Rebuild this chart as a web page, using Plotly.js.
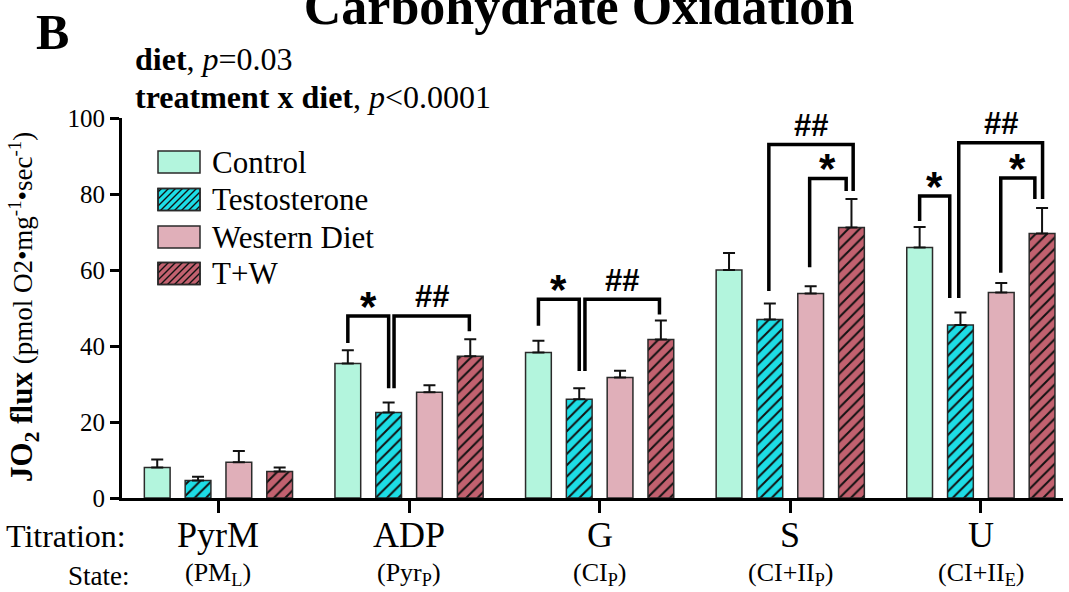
<!DOCTYPE html>
<html>
<head>
<meta charset="utf-8">
<script src="https://cdn.plot.ly/plotly-3.0.1.min.js"></script>
<style>html,body{margin:0;padding:0;background:#fff;}#chart{width:1069px;height:592px;}</style>
</head>
<body>
<div id="chart"></div>
<script>
// ---------------- data ----------------
const categories = ['PyrM', 'ADP', 'G', 'S', 'U'];
const stateLabels = ['(PM<sub>L</sub>)', '(Pyr<sub>P</sub>)', '(CI<sub>P</sub>)', '(CI+II<sub>P</sub>)', '(CI+II<sub>E</sub>)'];
const seriesNames = ['Control', 'Testosterone', 'Western Diet', 'T+W'];

const control        = [8.0, 35.4, 38.3, 60.0, 65.9];
const controlErr     = [2.1, 3.5, 3.1, 4.5, 5.4];
const testosterone   = [4.6, 22.5, 26.0, 47.0, 45.5];
const testosteroneErr= [1.0, 2.6, 2.9, 4.2, 3.3];
const western        = [9.4, 27.8, 31.7, 53.8, 54.1];
const westernErr     = [3.0, 1.9, 1.8, 1.9, 2.5];
const tw             = [7.0, 37.3, 41.7, 71.2, 69.6];
const twErr          = [1.0, 4.5, 5.0, 7.5, 6.7];

const yTickVals = [0, 20, 40, 60, 80, 100];

// ---------------- layout geometry ----------------
const W = 1069, H = 592;
const M = {l: 122, r: 6, t: 118, b: 94};
const PW = W - M.l - M.r, PH = H - M.t - M.b;
const xRange = [-0.506, 4.431];
const catPx = PW / (xRange[1] - xRange[0]);
const slot = 0.2141;
const pxX = px => (px - M.l) / PW;
const pxY = py => (H - M.b - py) / PH;
const catToPaper = c => (c - xRange[0]) / (xRange[1] - xRange[0]);
const barX = (cat, k, dpx) => catToPaper(cat + (k - 1.5) * slot + (dpx || 0) / catPx);

const fills = ['#b3f5dd', '#1ddde6', '#e0afb9', '#c2616f'];
const hatched = [false, true, false, true];
const outline = '#2a2a2a';

const serif = 'Liberation Serif, Times New Roman, serif';
const sans = 'Liberation Sans, Arial, sans-serif';

const values = [control, testosterone, western, tw];
const errs = [controlErr, testosteroneErr, westernErr, twErr];

const traces = values.map((v, k) => ({
  type: 'bar',
  name: seriesNames[k],
  x: categories,
  y: v,
  marker: {
    color: fills[k],
    line: {color: outline, width: 1.5},
    pattern: hatched[k]
      ? {shape: '/', fgcolor: '#111', bgcolor: fills[k], size: 8, solidity: 0.25, fillmode: 'replace'}
      : {shape: ''}
  },
  error_y: {type: 'data', symmetric: false, array: errs[k], arrayminus: v.map(() => 0),
            color: '#111', thickness: 2, width: 6},
  showlegend: false,
  hoverinfo: 'skip'
}));

// ---------------- significance brackets ----------------
const brackets = [
  {cat: 1, a: [0, 0],    b: [1, 0],     top: 47.9, ya: 40.8, yb: 28.9, label: '*'},
  {cat: 1, a: [1, 5.4],  b: [3, -0.9],  top: 47.9, ya: 28.9, yb: 43.9, label: '##'},
  {cat: 2, a: [0, 0],    b: [1, 0],     top: 52.3, ya: 45.3, yb: 33.4, label: '*'},
  {cat: 2, a: [1, 5.7],  b: [3, -1.4],  top: 52.3, ya: 33.4, yb: 48.3, label: '##'},
  {cat: 3, a: [1, -1],   b: [3, 1.7],   top: 93.0, ya: 54.5, yb: 80.8, label: '##'},
  {cat: 3, a: [2, -1],   b: [3, -5.3],  top: 84.1, ya: 60.7, yb: 80.8, label: '*'},
  {cat: 4, a: [0, 0],    b: [1, -10.7], top: 79.5, ya: 72.9, yb: 52.6, label: '*'},
  {cat: 4, a: [1, -1.7], b: [3, 0.5],   top: 93.5, ya: 52.6, yb: 78.7, label: '##'},
  {cat: 4, a: [2, -0.5], b: [3, -7.2],  top: 84.2, ya: 59.3, yb: 78.7, label: '*'}
];

const shapes = [];
const annotations = [];

brackets.forEach(br => {
  const x0 = barX(br.cat, br.a[0], br.a[1]);
  const x1 = barX(br.cat, br.b[0], br.b[1]);
  shapes.push({
    type: 'path', xref: 'paper', yref: 'y',
    path: `M ${x0},${br.ya} L ${x0},${br.top} L ${x1},${br.top} L ${x1},${br.yb}`,
    line: {color: '#000', width: 3.5}
  });
  const isStar = br.label === '*';
  annotations.push({
    xref: 'paper', yref: 'y', x: (x0 + x1) / 2, y: br.top + (isStar ? 4.4 : 5.0),
    text: '<b>' + br.label + '</b>', showarrow: false,
    xanchor: 'center', yanchor: 'middle',
    yshift: isStar ? -7 : 0,
    font: {family: sans, size: isStar ? 42 : 31, color: '#000'}
  });
});

// ---------------- manual legend ----------------
const legendRows = [162, 199.5, 237, 273.5];
const boxX0 = 158, boxX1 = 200, boxH = 22;
seriesNames.forEach((nm, k) => {
  const cy = legendRows[k];
  const y0 = cy - boxH / 2, y1 = cy + boxH / 2;
  shapes.push({
    type: 'rect', xref: 'paper', yref: 'paper',
    x0: pxX(boxX0), x1: pxX(boxX1), y0: pxY(y1), y1: pxY(y0),
    fillcolor: fills[k], line: {color: outline, width: 1.5}
  });
  if (hatched[k]) {
    let p = '';
    const sp = 7;
    for (let c = boxX0 + y0 + sp / 2; c < boxX1 + y1; c += sp) {
      const xa = Math.max(boxX0, c - y1), xb = Math.min(boxX1, c - y0);
      if (xb - xa < 0.5) continue;
      p += `M ${pxX(xa)},${pxY(c - xa)} L ${pxX(xb)},${pxY(c - xb)} `;
    }
    shapes.push({type: 'path', xref: 'paper', yref: 'paper', path: p, line: {color: '#111', width: 1.4}});
    shapes.push({
      type: 'rect', xref: 'paper', yref: 'paper',
      x0: pxX(boxX0), x1: pxX(boxX1), y0: pxY(y1), y1: pxY(y0),
      fillcolor: 'rgba(0,0,0,0)', line: {color: outline, width: 1.5}
    });
  }
  annotations.push({
    xref: 'paper', yref: 'paper', x: pxX(210), y: pxY(cy),
    text: nm, showarrow: false, xanchor: 'left', yanchor: 'middle',
    font: {family: serif, size: 31, color: '#000'}
  });
});

// ---------------- category labels ----------------
categories.forEach((c, i) => {
  annotations.push({
    xref: 'paper', yref: 'paper', x: catToPaper(i), y: pxY(535),
    text: c, showarrow: false, xanchor: 'center', yanchor: 'middle',
    font: {family: serif, size: 36, color: '#000'}
  });
  annotations.push({
    xref: 'paper', yref: 'paper', x: catToPaper(i), y: pxY(574),
    text: stateLabels[i], showarrow: false, xanchor: 'center', yanchor: 'middle',
    font: {family: serif, size: 26, color: '#000'}
  });
});
annotations.push({xref: 'paper', yref: 'paper', x: pxX(128), y: pxY(536), text: 'Titration:',
  showarrow: false, xanchor: 'right', yanchor: 'middle', font: {family: serif, size: 32, color: '#000'}});
annotations.push({xref: 'paper', yref: 'paper', x: pxX(132), y: pxY(576), text: 'State:',
  showarrow: false, xanchor: 'right', yanchor: 'middle', font: {family: serif, size: 27, color: '#000'}});

// ---------------- other texts ----------------
annotations.push({xref: 'paper', yref: 'paper', x: pxX(52), y: pxY(32), text: '<b>B</b>',
  showarrow: false, xanchor: 'center', yanchor: 'middle', font: {family: serif, size: 50, color: '#000'}});
annotations.push({xref: 'paper', yref: 'paper', x: pxX(133), y: pxY(59),
  text: '<b>diet</b>, <i>p</i>=0.03', showarrow: false, xanchor: 'left', yanchor: 'middle',
  font: {family: serif, size: 32, color: '#000'}});
annotations.push({xref: 'paper', yref: 'paper', x: pxX(133), y: pxY(97),
  text: '<b>treatment x diet</b>, <i>p</i>&lt;0.0001', showarrow: false, xanchor: 'left', yanchor: 'middle',
  font: {family: serif, size: 32, color: '#000'}});
annotations.push({xref: 'paper', yref: 'paper', x: pxX(24), y: pxY(307), textangle: -90,
  text: '<b>JO<sub>2</sub> flux</b> <span style="font-size:27px">(pmol O2•mg<sup>-1</sup>•sec<sup>-1</sup>)</span>',
  showarrow: false, xanchor: 'center', yanchor: 'middle',
  font: {family: serif, size: 31, color: '#000'}});

const layout = {
  width: W, height: H,
  margin: M,
  paper_bgcolor: '#fff', plot_bgcolor: '#fff',
  title: {text: '<b>Carbohydrate Oxidation</b>', font: {family: serif, size: 52, color: '#000'},
          x: 579 / W, xref: 'container', xanchor: 'center', y: 1 - 6 / H, yref: 'container', yanchor: 'middle'},
  barmode: 'group', bargap: 0.1435, bargroupgap: 0.369,
  showlegend: false,
  xaxis: {
    type: 'category', categoryorder: 'array', categoryarray: categories,
    range: xRange, showticklabels: false,
    showline: true, linecolor: '#000', linewidth: 3,
    ticks: 'outside', ticklen: 12, tickwidth: 3, tickcolor: '#000',
    showgrid: false, zeroline: false, fixedrange: true
  },
  yaxis: {
    range: [0, 100], tickvals: yTickVals, ticktext: yTickVals.map(String),
    showline: true, linecolor: '#000', linewidth: 3,
    ticks: 'outside', ticklen: 9, tickwidth: 3, tickcolor: '#000',
    tickfont: {family: serif, size: 25, color: '#000'},
    showgrid: false, zeroline: false, fixedrange: true
  },
  shapes: shapes,
  annotations: annotations
};

Plotly.newPlot('chart', traces, layout, {displayModeBar: false, staticPlot: true});
</script>
</body>
</html>
